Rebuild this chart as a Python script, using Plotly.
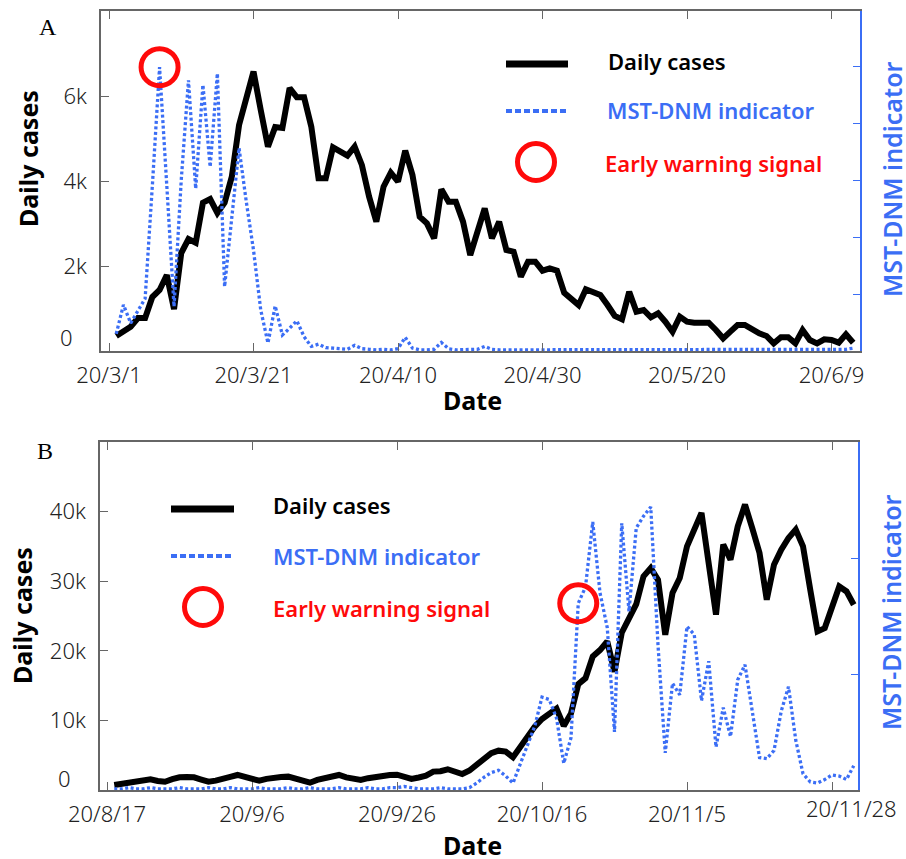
import pandas as pd
import plotly.graph_objects as go

# ---------------- data ----------------
dates_A = pd.date_range("2020-03-02", periods=103, freq="D")
cases_A = [353, 460, 572, 776, 776, 1270, 1435, 1788, 988, 2306,
           2635, 2549, 3490, 3576, 3247, 3490, 4102, 5318, 5953, 6573,
           5670, 4808, 5270, 5247, 6188, 5969, 5969, 5278, 4063, 4063,
           4792, 4690, 4596, 4808, 4376, 3631, 3043, 3866, 4196, 3984,
           4714, 4141, 3160, 3004, 2651, 3804, 3514, 3514, 3043, 2259,
           2769, 3357, 2651, 3043, 2376, 2337, 1749, 2102, 2102, 1890,
           1945, 1890, 1372, 1239, 1082, 1451, 1396, 1318, 1082, 824,
           745, 1396, 925, 965, 792, 886, 690, 455, 808, 690,
           667, 667, 667, 494, 298, 455, 612, 612, 510, 416,
           353, 180, 322, 322, 180, 494, 259, 180, 275, 259,
           196, 392, 196]
mst_A = [0.30, 0.81, 0.49, 0.70, 0.92, 2.90, 4.98, 2.90, 0.78, 3.00,
         4.75, 2.85, 4.67, 3.23, 4.87, 1.13, 2.30, 3.56, 2.62, 1.77,
         0.72, 0.14, 0.79, 0.28, 0.40, 0.53, 0.25, 0.08, 0.12, 0.06,
         0.05, 0.04, 0.03, 0.10, 0.04, 0.03, 0.02, 0.03, 0.02, 0.04,
         0.24, 0.05, 0.02, 0.02, 0.03, 0.15, 0.04, 0.02, 0.02, 0.02,
         0.03, 0.08, 0.03, 0.02, 0.02, 0.03, 0.02, 0.02, 0.02, 0.03,
         0.02, 0.02, 0.02, 0.03, 0.02, 0.02, 0.02, 0.02, 0.03, 0.02,
         0.02, 0.02, 0.03, 0.02, 0.02, 0.02, 0.02, 0.02, 0.03, 0.02,
         0.02, 0.02, 0.02, 0.02, 0.03, 0.02, 0.02, 0.02, 0.02, 0.02,
         0.03, 0.02, 0.02, 0.02, 0.02, 0.02, 0.03, 0.02, 0.02, 0.02,
         0.03, 0.03, 0.05]
warn_idx_A = 6

dates_B = pd.date_range("2020-08-18", periods=103, freq="D")
cases_B = [720, 880, 1050, 1200, 1400, 1540, 1300, 1190, 1550, 1820,
           1850, 1820, 1500, 1190, 1350, 1540, 1900, 2160, 1900, 1500,
           1340, 1600, 1820, 1880, 1920, 1700, 1300, 1050, 1450, 1700,
           1950, 2160, 1820, 1600, 1440, 1700, 1920, 2050, 2160, 2200,
           1900, 1580, 1800, 2050, 2640, 2700, 2980, 2700, 2300, 2800,
           3700, 4560, 5300, 5650, 5510, 4700, 6200, 7700, 9110, 10200,
           11000, 11700, 9200, 11000, 15200, 16070, 19180, 20100, 21340, 17000,
           22600, 24900, 26700, 30700, 31900, 30200, 22300, 28300, 30460, 35000,
           37500, 39810, 32500, 25200, 35250, 33090, 37880, 41010, 37640, 34060,
           27340, 32370, 34530, 36210, 37410, 35010, 28780, 22780, 23260, 26370,
           29250, 28530, 26620]
mst_B = [0.01, 0.01, 0.02, 0.01, 0.01, 0.02, 0.01, 0.01, 0.01, 0.02,
         0.01, 0.01, 0.01, 0.02, 0.01, 0.01, 0.02, 0.01, 0.01, 0.01,
         0.02, 0.01, 0.01, 0.01, 0.02, 0.01, 0.01, 0.02, 0.01, 0.01,
         0.01, 0.02, 0.01, 0.01, 0.01, 0.02, 0.01, 0.01, 0.02, 0.02,
         0.03, 0.02, 0.01, 0.01, 0.01, 0.02, 0.01, 0.01, 0.01, 0.02,
         0.06, 0.11, 0.15, 0.17, 0.12, 0.06, 0.22, 0.38, 0.55, 0.80,
         0.78, 0.62, 0.23, 0.45, 1.61, 1.75, 2.31, 1.70, 1.40, 0.50,
         2.30, 1.54, 2.26, 2.36, 2.44, 1.25, 0.32, 0.92, 0.82, 1.41,
         1.34, 0.77, 1.11, 0.37, 0.71, 0.46, 0.95, 1.08, 0.70, 0.28,
         0.27, 0.34, 0.68, 0.89, 0.43, 0.14, 0.07, 0.06, 0.09, 0.13,
         0.12, 0.09, 0.21]
warn_idx_B = 64

ticks_A = ["2020-03-01", "2020-03-21", "2020-04-10", "2020-04-30", "2020-05-20", "2020-06-09"]
ticklabels_A = ["20/3/1", "20/3/21", "20/4/10", "20/4/30", "20/5/20", "20/6/9"]
ticks_B = ["2020-08-17", "2020-09-06", "2020-09-26", "2020-10-16", "2020-11-05", "2020-11-25"]
ticklabels_B = ["20/8/17", "20/9/6", "20/9/26", "20/10/16", "20/11/5", ""]
last_label_B = "20/11/28"
ytick_A = [0, 2000, 4000, 6000]
ytick_A_text = ["", "2k", "4k", "6k"]
ytick_B = [0, 10000, 20000, 30000, 40000]
ytick_B_text = ["", "10k", "20k", "30k", "40k"]

# ---------------- styling ----------------
W, H = 906, 859
BLUE = "#3b6ef5"
RED = "#ff0a0a"
AX = "#666666"
FONT = "Noto Sans"


def px(x):
    return x / W


def py(y):
    return 1 - y / H


fig = go.Figure()

# Panel A
fig.add_trace(go.Scatter(x=dates_A, y=cases_A, mode="lines", line=dict(color="black", width=6),
                         xaxis="x", yaxis="y", showlegend=False))
fig.add_trace(go.Scatter(x=dates_A, y=mst_A, mode="lines",
                         line=dict(color=BLUE, width=3.3, dash="3px,2.5px"),
                         xaxis="x", yaxis="y2", showlegend=False))
fig.add_trace(go.Scatter(x=[dates_A[warn_idx_A]], y=[mst_A[warn_idx_A]], mode="markers",
                         marker=dict(symbol="circle-open", size=37, line=dict(color=RED, width=5), color=RED),
                         xaxis="x", yaxis="y2", showlegend=False))

# Panel B
fig.add_trace(go.Scatter(x=dates_B, y=cases_B, mode="lines", line=dict(color="black", width=6),
                         xaxis="x2", yaxis="y3", showlegend=False))
fig.add_trace(go.Scatter(x=dates_B, y=mst_B, mode="lines",
                         line=dict(color=BLUE, width=3.3, dash="3px,2.5px"),
                         xaxis="x2", yaxis="y4", showlegend=False))
fig.add_trace(go.Scatter(x=[dates_B[warn_idx_B]], y=[mst_B[warn_idx_B]], mode="markers",
                         marker=dict(symbol="circle-open", size=37, line=dict(color=RED, width=5), color=RED),
                         xaxis="x2", yaxis="y4", showlegend=False))

# axis ranges from pixel geometry
t0A = pd.Timestamp("2020-03-01")
rA = [t0A + pd.Timedelta(days=(101 - 109) / 7.225), t0A + pd.Timedelta(days=(860 - 109) / 7.225)]
t0B = pd.Timestamp("2020-08-17")
rB = [t0B + pd.Timedelta(days=(100 - 107) / 7.25), t0B + pd.Timedelta(days=(858 - 107) / 7.25)]

tickfont = dict(family=FONT, size=22, color="#222222", weight=300)
common_x = dict(type="date", showgrid=False, zeroline=False, showline=True, linecolor=AX, linewidth=1.5,
                ticks="inside", ticklen=8, tickwidth=1.2, tickcolor=AX, mirror="ticks",
                tickfont=tickfont, ticklabelstandoff=4, automargin=False)
common_y = dict(showgrid=False, zeroline=False, showline=True, linecolor=AX, linewidth=1.5,
                ticks="inside", ticklen=8, tickwidth=1.2, tickcolor=AX, tickfont=tickfont,
                ticklabelstandoff=8, automargin=False)
right_y = dict(showgrid=False, zeroline=False, showline=True, linecolor=BLUE, linewidth=1.5,
               ticks="inside", ticklen=7, tickwidth=1.2, tickcolor=BLUE, showticklabels=False,
               side="right", automargin=False)

fig.update_layout(
    template="none",
    width=W, height=H, margin=dict(l=0, r=0, t=0, b=0, pad=0), autosize=False,
    paper_bgcolor="white", plot_bgcolor="white",
    xaxis=dict(domain=[px(101), px(860)], anchor="y", range=rA,
               tickvals=ticks_A, ticktext=ticklabels_A, **common_x),
    yaxis=dict(domain=[py(351), py(11)], anchor="x", range=[0, 8000],
               tickvals=ytick_A, ticktext=ytick_A_text, **common_y),
    yaxis2=dict(overlaying="y", anchor="x", range=[0, 340 / 57], tickvals=[1, 2, 3, 4, 5], **right_y),
    xaxis2=dict(domain=[px(100), px(858)], anchor="y3", range=rB,
                tickvals=ticks_B, ticktext=ticklabels_B, **common_x),
    yaxis3=dict(domain=[py(790), py(442)], anchor="x2", range=[0, 50000],
                tickvals=ytick_B, ticktext=ytick_B_text, **common_y),
    yaxis4=dict(overlaying="y3", anchor="x2", range=[0, 3], tickvals=[1, 2], **right_y),
)

ann = []


def text(x, y, s, size, color="black", weight=400, anchor="center", angle=0, family=FONT):
    ann.append(dict(xref="paper", yref="paper", x=px(x), y=py(y), text=s, showarrow=False,
                    xanchor=anchor, yanchor="middle", textangle=angle,
                    font=dict(family=family, size=size, color=color, weight=weight)))


shapes = []


def hline(x0, x1, y, color, width, dash="solid"):
    shapes.append(dict(type="line", xref="paper", yref="paper", x0=px(x0), x1=px(x1), y0=py(y), y1=py(y),
                       line=dict(color=color, width=width, dash=dash)))


def circle(cx, cy, r):
    shapes.append(dict(type="circle", xref="paper", yref="paper", x0=px(cx - r), x1=px(cx + r),
                       y0=py(cy + r), y1=py(cy - r), line=dict(color=RED, width=5)))


# panel labels
text(48, 27, "A", 24, family="Liberation Serif")
text(45, 451, "B", 24, family="Liberation Serif")

# zero tick labels (shifted up, as in the reference)
text(75, 337, "0", 22, color="#222222", anchor="right", weight=300)
text(73, 778, "0", 22, color="#222222", anchor="right", weight=300)
text(851, 808, last_label_B, 22, color="#222222", weight=300)

# axis titles
text(28, 159, "Daily cases", 25, weight=700, angle=-90)
text(472, 400, "Date", 25, weight=700)
text(892, 179, "MST-DNM indicator", 25, color=BLUE, weight=600, angle=-90)
text(22, 616, "Daily cases", 25, weight=700, angle=-90)
text(472, 845, "Date", 25, weight=700)
text(891, 612, "MST-DNM indicator", 25, color=BLUE, weight=600, angle=-90)

# legend A
hline(506, 568, 64, "black", 7)
text(606, 61, "Daily cases", 22, weight=600, anchor="left")
hline(506, 568, 111, BLUE, 4, "6px,3px")
text(605, 110, "MST-DNM indicator", 22, color=BLUE, weight=600, anchor="left")
circle(536, 162, 18.5)
text(603, 163, "Early warning signal", 22, color=RED, weight=600, anchor="left")

# legend B
hline(171, 234, 509, "black", 7)
text(271, 505, "Daily cases", 22, weight=600, anchor="left")
hline(171, 234, 556, BLUE, 4, "6px,3px")
text(271, 556, "MST-DNM indicator", 22, color=BLUE, weight=600, anchor="left")
circle(203, 607, 18.5)
text(271, 608, "Early warning signal", 22, color=RED, weight=600, anchor="left")

fig.update_layout(annotations=ann, shapes=shapes)
fig.write_html("out.html", config={"displayModeBar": False},
               post_script="document.body.style.margin='0';document.body.style.overflow='hidden';")
